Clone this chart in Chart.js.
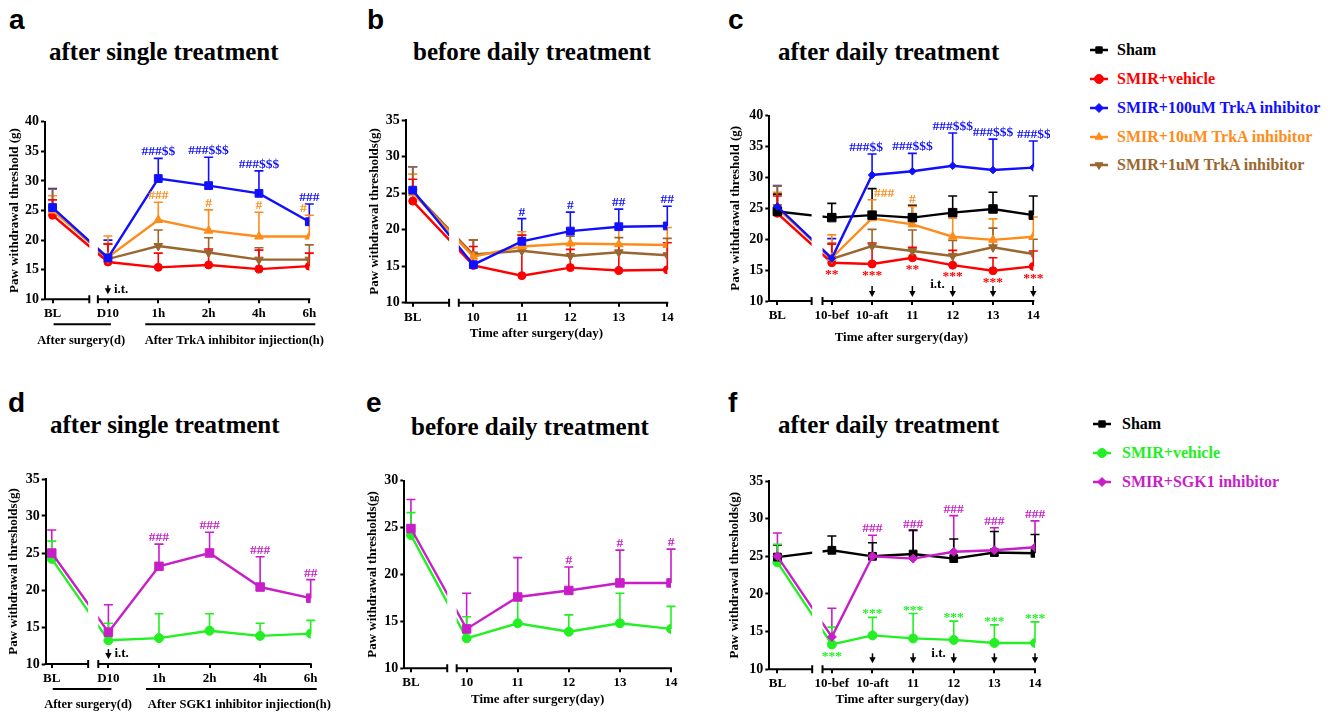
<!DOCTYPE html>
<html>
<head>
<meta charset="utf-8">
<script src="https://cdn.jsdelivr.net/npm/chart.js@4.4.1/dist/chart.umd.min.js"></script>
<style>
body { margin: 0; width: 1338px; height: 718px; background: #fff; position: relative; overflow: hidden; }
canvas { position: absolute; }
.t { position: absolute; font: bold 25px/25px "Liberation Serif", serif; white-space: nowrap; color: #000; }
.l { position: absolute; font: bold 28px/28px "Liberation Sans", Arial, sans-serif; color: #000; }
.g { position: absolute; font: bold 16px/20px "Liberation Serif", serif; white-space: nowrap; }
</style>
</head>
<body>
<div class="l" style="left:9px;top:6px">a</div>
<div class="t" style="left:49px;top:39px">after single treatment</div>
<div class="l" style="left:367px;top:6px">b</div>
<div class="t" style="left:413px;top:39px">before daily treatment</div>
<div class="l" style="left:728px;top:6px">c</div>
<div class="t" style="left:778px;top:39px">after daily treatment</div>
<div class="l" style="left:8px;top:389px">d</div>
<div class="t" style="left:50px;top:412px">after single treatment</div>
<div class="l" style="left:366px;top:389px">e</div>
<div class="t" style="left:411px;top:414px">before daily treatment</div>
<div class="l" style="left:728px;top:389px">f</div>
<div class="t" style="left:778px;top:412px">after daily treatment</div>

<script>
// categories
var catsA = ['BL', 'D10', '1h', '2h', '4h', '6h'];
var catsB = ['BL', '10', '11', '12', '13', '14'];
var catsC = ['BL', '10-bef', '10-aft', '11', '12', '13', '14'];

// panel a - TrkA, after single treatment
var redA = [24.2, 16.3, 15.4, 15.8, 15.1, 15.6];
var redErrA = [2.6, 3.0, 2.4, 2.7, 3.2, 2.2];
var blueA = [25.5, 17.0, 30.4, 29.2, 27.9, 23.1];
var blueErrA = [3.2, 3.0, 3.4, 4.8, 3.8, 3.0];
var orangeA = [25.0, 17.1, 23.4, 21.6, 20.6, 20.6];
var orangeErrA = [2.5, 3.6, 3.0, 3.5, 4.1, 3.6];
var brownA = [25.2, 16.8, 19.0, 17.9, 16.7, 16.7];
var brownErrA = [3.4, 2.6, 2.7, 2.5, 2.0, 2.5];
var blueSigA = ['', '', '###$$', '###$$$', '###$$$', '###'];
var orangeSigA = ['', '', '###', '#', '#', '#'];

// panel b - TrkA, before daily treatment
var redB = [23.9, 15.1, 13.7, 14.8, 14.4, 14.5];
var redErrB = [3.0, 2.6, 5.5, 2.5, 3.6, 3.7];
var blueB = [25.4, 15.2, 18.4, 19.8, 20.4, 20.5];
var blueErrB = [3.2, 3.4, 3.1, 2.6, 2.4, 2.7];
var orangeB = [25.0, 16.3, 17.7, 18.1, 18.0, 17.9];
var orangeErrB = [2.6, 2.3, 2.0, 2.0, 2.1, 2.4];
var brownB = [25.2, 16.6, 17.1, 16.4, 16.9, 16.5];
var brownErrB = [3.4, 2.0, 2.2, 2.7, 2.0, 2.3];
var blueSigB = ['', '', '#', '#', '##', '##'];

// panel c - TrkA, after daily treatment
var shamC = [24.5, 23.5, 23.9, 23.5, 24.3, 24.9, 23.9];
var shamErrC = [2.8, 2.3, 4.3, 2.0, 2.7, 2.7, 3.1];
var redC = [24.2, 16.2, 16.0, 17.0, 15.8, 14.9, 15.6];
var redErrC = [2.8, 3.0, 3.4, 1.7, 2.4, 2.1, 2.5];
var blueC = [25.3, 16.9, 30.4, 31.0, 31.9, 31.2, 31.6];
var blueErrC = [3.4, 3.2, 3.4, 2.9, 5.3, 5.0, 4.3];
var orangeC = [25.0, 17.0, 23.4, 22.4, 20.4, 19.9, 20.4];
var orangeErrC = [2.6, 3.7, 3.0, 2.9, 3.0, 3.4, 3.2];
var brownC = [25.2, 16.8, 18.9, 18.1, 17.3, 18.7, 17.6];
var brownErrC = [3.4, 2.6, 2.7, 3.4, 2.5, 3.1, 2.4];
var blueSigC = ['', '', '###$$', '###$$$', '###$$$', '###$$$', '###$$$'];
var orangeSigC = ['', '', '###', '#', '', '', ''];
var redSigC = ['', '**', '***', '**', '***', '***', '***'];

// panel d - SGK1, after single treatment
var greenD = [24.2, 13.2, 13.5, 14.5, 13.8, 14.1];
var greenErrD = [2.4, 2.3, 3.3, 2.3, 1.7, 1.8];
var purpleD = [25.0, 14.3, 23.2, 25.0, 20.4, 18.9];
var purpleErrD = [3.1, 3.7, 3.0, 2.8, 4.1, 2.5];
var purpleSigD = ['', '', '###', '###', '###', '##'];

// panel e - SGK1, before daily treatment
var greenE = [24.2, 13.2, 14.8, 13.9, 14.8, 14.2];
var greenErrE = [2.4, 2.3, 2.5, 1.8, 3.2, 2.4];
var purpleE = [24.9, 14.2, 17.6, 18.3, 19.1, 19.1];
var purpleErrE = [3.1, 3.8, 4.2, 2.5, 3.5, 3.6];
var purpleSigE = ['', '', '', '#', '#', '#'];

// panel f - SGK1, after daily treatment
var shamF = [24.9, 25.8, 25.0, 25.3, 24.7, 25.5, 25.4];
var shamErrF = [1.6, 1.9, 1.8, 3.2, 2.6, 2.8, 2.5];
var greenF = [24.2, 13.3, 14.5, 14.1, 13.9, 13.5, 13.5];
var greenErrF = [2.4, 2.3, 2.4, 3.3, 2.5, 2.4, 2.8];
var purpleF = [25.0, 14.3, 25.0, 24.7, 25.6, 25.8, 26.2];
var purpleErrF = [3.1, 3.8, 2.8, 3.7, 4.8, 3.0, 3.5];
var purpleSigF = ['', '', '###', '###', '###', '###', '###'];
var greenSigF = ['', '', '***', '***', '***', '***', '***'];
var greenLowSigF = ['', '***', '', '', '', '', ''];

// x positions on the broken axis (BL, then the post-surgery points)
var xPosA = [0, 1.1, 2.1, 3.1, 4.1, 5.1];
var xPosB = [0, 1.25, 2.25, 3.25, 4.25, 5.25];
var xPosC = [0, 1.35, 2.35, 3.35, 4.35, 5.35, 6.35];
var xPosD = [0, 1.12, 2.12, 3.12, 4.12, 5.12];
var xPosE = [0, 1.09, 2.09, 3.09, 4.09, 5.09];
var xPosF = [0, 1.34, 2.34, 3.34, 4.34, 5.34, 6.34];

var RED = '#ff0000', BLUE = '#1010ff', ORANGE = '#ff8c1a', BROWN = '#9a6630';
var GREEN = '#22f022', PURPLE = '#c81ec8', BLACK = '#000000';
var SERIF = "'Liberation Serif', 'Times New Roman', serif";

function drawArrow(ctx, x, top, tip) {
    ctx.beginPath();
    ctx.moveTo(x, top);
    ctx.lineTo(x, tip - 4);
    ctx.stroke();
    ctx.beginPath();
    ctx.moveTo(x - 3.2, tip - 6);
    ctx.lineTo(x + 3.2, tip - 6);
    ctx.lineTo(x, tip);
    ctx.closePath();
    ctx.fill();
}

function extras(p) {
    return {
        id: 'extras',
        beforeDatasetsDraw: function (chart) {
            var ctx = chart.ctx, x = chart.scales.x, y = chart.scales.y;
            ctx.save();
            ctx.lineWidth = 1.6;
            chart.data.datasets.forEach(function (ds) {
                ctx.strokeStyle = ds.borderColor;
                ds.data.forEach(function (pt, i) {
                    var px = x.getPixelForValue(pt.x);
                    var py = y.getPixelForValue(pt.y);
                    var pe = y.getPixelForValue(pt.y + ds.errors[i]);
                    ctx.beginPath();
                    ctx.moveTo(px, py);
                    ctx.lineTo(px, pe);
                    ctx.moveTo(px - 4.5, pe);
                    ctx.lineTo(px + 4.5, pe);
                    ctx.stroke();
                });
            });
            ctx.restore();
        },
        afterDatasetsDraw: function (chart) {
            var ctx = chart.ctx, a = chart.chartArea, x = chart.scales.x, y = chart.scales.y;
            var b0 = x.getPixelForValue(p.brk[0]), b1 = x.getPixelForValue(p.brk[1]);
            ctx.save();
            // gap in the lines at the axis break
            ctx.fillStyle = '#fff';
            ctx.fillRect(b0, a.top, b1 - b0, a.bottom - a.top - 1);
            // broken x axis
            ctx.strokeStyle = '#000';
            ctx.lineWidth = 2;
            ctx.beginPath();
            ctx.moveTo(a.left - 1, a.bottom);
            ctx.lineTo(b0, a.bottom);
            ctx.moveTo(b1, a.bottom);
            ctx.lineTo(a.right + 1, a.bottom);
            ctx.moveTo(b0, a.bottom - 4);
            ctx.lineTo(b0, a.bottom + 4);
            ctx.moveTo(b1, a.bottom - 4);
            ctx.lineTo(b1, a.bottom + 4);
            ctx.stroke();

            // significance marks
            ctx.font = 'bold 13.5px ' + SERIF;
            ctx.textAlign = 'center';
            (p.marks || []).forEach(function (m) {
                var ds = chart.data.datasets[m.ds];
                ctx.fillStyle = ds.borderColor;
                m.text.forEach(function (t, i) {
                    if (!t) return;
                    var pt = ds.data[i];
                    var px = x.getPixelForValue(pt.x) + ((m.dx && m.dx[i]) || 0);
                    if (m.below) {
                        ctx.textBaseline = 'top';
                        ctx.fillText(t, px, y.getPixelForValue(pt.y) + 5);
                    } else {
                        ctx.textBaseline = 'alphabetic';
                        var gap = m.gap === undefined ? 3 : m.gap;
                        ctx.fillText(t, px, y.getPixelForValue(pt.y + ds.errors[i]) - gap);
                    }
                });
            });

            // injection arrows
            if (p.arrows) {
                ctx.fillStyle = '#000';
                ctx.strokeStyle = '#000';
                ctx.lineWidth = 1.5;
                p.arrows.at.forEach(function (i) {
                    drawArrow(ctx, x.getPixelForValue(p.xPos[i]), a.bottom - p.arrows.len, a.bottom - p.arrows.lift);
                });
                ctx.font = 'bold 13px ' + SERIF;
                ctx.textBaseline = 'middle';
                var ix = x.getPixelForValue(p.xPos[p.arrows.it]);
                if (p.arrows.itSide === 'right') {
                    ctx.textAlign = 'left';
                    ctx.fillText('i.t.', ix + 6, a.bottom - 10);
                } else {
                    ctx.textAlign = 'right';
                    ctx.fillText('i.t.', ix - 8, a.bottom - 16);
                }
            }
            ctx.restore();
        },
        afterDraw: function (chart) {
            if (!p.groups) return;
            var ctx = chart.ctx, a = chart.chartArea, x = chart.scales.x;
            ctx.save();
            ctx.strokeStyle = '#000';
            ctx.lineWidth = 2;
            ctx.fillStyle = '#000';
            ctx.font = 'bold 12.5px ' + SERIF;
            ctx.textAlign = 'center';
            ctx.textBaseline = 'middle';
            p.groups.forEach(function (g) {
                var x0 = x.getPixelForValue(p.xPos[g.from]) + g.pad[0];
                var x1 = x.getPixelForValue(p.xPos[g.to]) + g.pad[1];
                ctx.beginPath();
                ctx.moveTo(x0, a.bottom + 25);
                ctx.lineTo(x1, a.bottom + 25);
                ctx.stroke();
                ctx.fillText(g.label, (x0 + x1) / 2 + g.ldx, a.bottom + 41);
            });
            ctx.restore();
        }
    };
}

function series(values, errors, color, style, r, rot) {
    return { values: values, errors: errors, color: color, style: style, r: r, rot: rot || 0 };
}

function panel(p) {
    var left = Math.floor(p.titleX - 11.8);
    var top = Math.floor(p.area[1] - 12);
    var right = Math.ceil(p.area[2] + (p.padR || 16));
    var bottom = Math.ceil(p.area[3] + p.xH);
    var yW = p.area[0] - left, padTop = p.area[1] - top;
    var padRight = right - p.area[2], xH = bottom - p.area[3];

    var cv = document.createElement('canvas');
    cv.width = right - left;
    cv.height = bottom - top;
    cv.style.left = left + 'px';
    cv.style.top = top + 'px';
    document.body.appendChild(cv);

    var tickFont = { family: SERIF, size: 13, weight: 'bold' };
    var titleFont = { family: SERIF, size: 13, weight: 'bold' };

    new Chart(cv, {
        type: 'line',
        data: {
            datasets: p.series.map(function (s) {
                return {
                    data: s.values.map(function (v, i) { return { x: p.xPos[i], y: v }; }),
                    errors: s.errors,
                    borderColor: s.color,
                    backgroundColor: s.color,
                    borderWidth: 2.4,
                    pointStyle: s.style,
                    pointRadius: s.r,
                    pointRotation: s.rot,
                    pointBorderWidth: 1,
                    tension: 0
                };
            })
        },
        options: {
            responsive: false,
            animation: false,
            devicePixelRatio: 1,
            layout: { padding: { top: padTop, right: padRight, left: 0, bottom: 0 } },
            plugins: { legend: { display: false }, tooltip: { enabled: false } },
            scales: {
                x: {
                    type: 'linear',
                    min: p.xMin,
                    max: p.xMax,
                    afterBuildTicks: function (sc) {
                        sc.ticks = p.xPos.map(function (v) { return { value: v }; });
                    },
                    afterFit: function (sc) { sc.height = xH; },
                    ticks: {
                        callback: function (v, i) { return p.cats[i]; },
                        autoSkip: false, maxRotation: 0, padding: 3, color: '#000', font: tickFont
                    },
                    grid: { drawOnChartArea: false, color: '#000', tickColor: '#000', tickLength: 4, tickWidth: 2, lineWidth: 2 },
                    border: { display: false },
                    title: {
                        display: !!p.xTitle, text: p.xTitle || '', color: '#000', font: titleFont,
                        padding: { top: 4, bottom: 4 }
                    }
                },
                y: {
                    min: p.yMin,
                    max: p.yMax,
                    afterFit: function (sc) { sc.width = yW; },
                    ticks: { stepSize: 5, padding: 2, color: '#000', font: { family: SERIF, size: 14, weight: 'bold' } },
                    grid: { drawOnChartArea: false, color: '#000', tickColor: '#000', tickLength: 4, tickWidth: 2 },
                    border: { display: true, color: '#000', width: 2 },
                    title: { display: true, text: p.yTitle, color: '#000', font: titleFont, padding: { top: 4, bottom: 4 } }
                }
            }
        },
        plugins: [extras(p)]
    });
}

// a
panel({
    area: [45, 121.7, 309.3, 299.3], titleX: 15, xH: 55, padR: 30,
    xMin: -0.15, xMax: 5.1, xPos: xPosA, brk: [0.73, 0.9], cats: catsA,
    yMin: 10, yMax: 40, yTitle: 'Paw withdrawal threshold (g)',
    series: [
        series(blueA, blueErrA, BLUE, 'rect', 5.5),
        series(orangeA, orangeErrA, ORANGE, 'triangle', 5),
        series(brownA, brownErrA, BROWN, 'triangle', 5, 180),
        series(redA, redErrA, RED, 'circle', 4)
    ],
    marks: [
        { ds: 0, text: blueSigA },
        { ds: 1, text: orangeSigA, dx: { 5: -6 } }
    ],
    arrows: { at: [1], it: 1, itSide: 'right', len: 14, lift: 5 },
    groups: [
        { from: 0, to: 1, pad: [1, 3], label: 'After surgery(d)', ldx: -1 },
        { from: 2, to: 5, pad: [-13, 6], label: 'After TrkA inhibitor injiection(h)', ldx: 4 }
    ]
});

// b
panel({
    area: [405.7, 120, 667.3, 302.7], titleX: 375, xH: 41.5,
    xMin: -0.145, xMax: 5.25, xPos: xPosB, brk: [0.75, 0.95], cats: catsB,
    yMin: 10, yMax: 35, yTitle: 'Paw withdrawal thresholds(g)', xTitle: 'Time after surgery(day)',
    series: [
        series(blueB, blueErrB, BLUE, 'rect', 5.5),
        series(orangeB, orangeErrB, ORANGE, 'triangle', 5),
        series(brownB, brownErrB, BROWN, 'triangle', 5, 180),
        series(redB, redErrB, RED, 'circle', 4)
    ],
    marks: [{ ds: 0, text: blueSigB }]
});

// c
panel({
    area: [769.3, 115.7, 1033.3, 301], titleX: 736, xH: 47.5,
    xMin: -0.2, xMax: 6.35, xPos: xPosC, brk: [0.85, 1.12], cats: catsC,
    yMin: 10, yMax: 40, yTitle: 'Paw withdrawal threshold (g)', xTitle: 'Time after surgery(day)',
    series: [
        series(blueC, blueErrC, BLUE, 'rectRot', 3.8),
        series(shamC, shamErrC, BLACK, 'rect', 6),
        series(orangeC, orangeErrC, ORANGE, 'triangle', 5),
        series(brownC, brownErrC, BROWN, 'triangle', 5, 180),
        series(redC, redErrC, RED, 'circle', 4)
    ],
    marks: [
        { ds: 0, text: blueSigC, dx: { 2: -6, 6: 4 } },
        { ds: 2, text: orangeSigC, dx: { 2: 12 } },
        { ds: 4, text: redSigC, below: true }
    ],
    arrows: { at: [2, 3, 4, 5, 6], it: 4, itSide: 'left', len: 15, lift: 4 }
});

// d
panel({
    area: [45.7, 479, 310.7, 664], titleX: 14, xH: 55, padR: 30,
    xMin: -0.12, xMax: 5.12, xPos: xPosD, brk: [0.72, 0.92], cats: catsA,
    yMin: 10, yMax: 35, yTitle: 'Paw withdrawal thresholds(g)',
    series: [
        series(purpleD, purpleErrD, PURPLE, 'rect', 6),
        series(greenD, greenErrD, GREEN, 'circle', 4.5)
    ],
    marks: [{ ds: 0, text: purpleSigD }],
    arrows: { at: [1], it: 1, itSide: 'right', len: 15, lift: 5 },
    groups: [
        { from: 0, to: 1, pad: [1, 3], label: 'After surgery(d)', ldx: 6 },
        { from: 2, to: 5, pad: [-13, 6], label: 'After SGK1 inhibitor injiection(h)', ldx: 8 }
    ]
});

// e
panel({
    area: [404.3, 480.7, 671, 668.3], titleX: 373.3, xH: 42,
    xMin: -0.13, xMax: 5.09, xPos: xPosE, brk: [0.71, 0.895], cats: catsB,
    yMin: 10, yMax: 30, yTitle: 'Paw withdrawal thresholds(g)', xTitle: 'Time after surgery(day)',
    series: [
        series(purpleE, purpleErrE, PURPLE, 'rect', 6),
        series(greenE, greenErrE, GREEN, 'circle', 4.5)
    ],
    marks: [{ ds: 0, text: purpleSigE }]
});

// f
panel({
    area: [769.3, 481, 1035, 669.3], titleX: 735, xH: 41.5,
    xMin: -0.2, xMax: 6.34, xPos: xPosF, brk: [0.856, 1.11], cats: catsC,
    yMin: 10, yMax: 35, yTitle: 'Paw withdrawal thresholds(g)', xTitle: 'Time after surgery(day)',
    series: [
        series(purpleF, purpleErrF, PURPLE, 'rectRot', 4.5),
        series(shamF, shamErrF, BLACK, 'rect', 5.5),
        series(greenF, greenErrF, GREEN, 'circle', 4.5)
    ],
    marks: [
        { ds: 0, text: purpleSigF },
        { ds: 2, text: greenSigF, gap: 0 },
        { ds: 2, text: greenLowSigF, below: true }
    ],
    arrows: { at: [2, 3, 4, 5, 6], it: 4, itSide: 'left', len: 16, lift: 6 }
});

// legends
function legendItem(cx, cy, color, style, rot, text, textX) {
    var cv = document.createElement('canvas');
    cv.width = 28;
    cv.height = 16;
    cv.style.left = (cx - 14) + 'px';
    cv.style.top = (cy - 8) + 'px';
    document.body.appendChild(cv);
    var c = cv.getContext('2d');
    c.strokeStyle = color;
    c.fillStyle = color;
    c.lineWidth = 2.5;
    c.beginPath();
    c.moveTo(5, 8);
    c.lineTo(23, 8);
    c.stroke();
    c.lineWidth = 1;
    if (Chart.helpers && Chart.helpers.drawPoint) {
        Chart.helpers.drawPoint(c, { pointStyle: style, radius: 4.5, rotation: rot, borderWidth: 1 }, 14, 8);
    } else {
        c.fillRect(10, 4, 8, 8);
    }
    var d = document.createElement('div');
    d.className = 'g';
    d.style.left = textX + 'px';
    d.style.top = (cy - 10) + 'px';
    d.style.color = color;
    d.textContent = text;
    document.body.appendChild(d);
}

var legendTop = ['Sham', 'SMIR+vehicle', 'SMIR+100uM TrkA inhibitor', 'SMIR+10uM TrkA inhibitor', 'SMIR+1uM TrkA inhibitor'];
var legendBottom = ['Sham', 'SMIR+vehicle', 'SMIR+SGK1 inhibitor'];

legendItem(1099, 50, BLACK, 'rect', 0, legendTop[0], 1117);
legendItem(1099, 79, RED, 'circle', 0, legendTop[1], 1117);
legendItem(1099, 108, BLUE, 'rectRot', 0, legendTop[2], 1117);
legendItem(1099, 136.7, ORANGE, 'triangle', 0, legendTop[3], 1117);
legendItem(1099, 165, BROWN, 'triangle', 180, legendTop[4], 1117);

legendItem(1102, 424, BLACK, 'rect', 0, legendBottom[0], 1122);
legendItem(1102, 453, GREEN, 'circle', 0, legendBottom[1], 1122);
legendItem(1102, 481.7, PURPLE, 'rectRot', 0, legendBottom[2], 1122);
</script>
</body>
</html>
